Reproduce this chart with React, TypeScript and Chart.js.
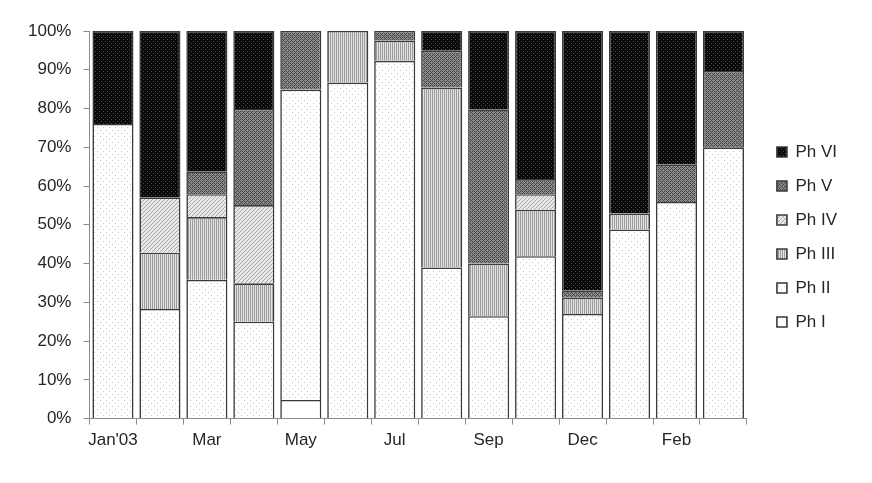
import React, { useEffect, useRef } from 'react';
import { Chart, registerables } from 'chart.js';

Chart.register(...registerables);

const categories = ["Jan'03", 'Feb', 'Mar', 'Apr', 'May', 'Jun', 'Jul', 'Aug', 'Sep', 'Oct', 'Dec', 'Jan', 'Feb', 'Mar'];
const yTicks = [0, 10, 20, 30, 40, 50, 60, 70, 80, 90, 100];

const phI = [0, 0, 0, 0, 4.8, 0, 0, 0, 0, 0, 0, 0, 0, 0];
const phII = [76, 28.3, 35.8, 25, 80.1, 86.7, 92.3, 39, 26.4, 41.9, 27, 48.8, 55.9, 70];
const phIII = [0, 14.5, 16.2, 9.9, 0, 13.3, 5.2, 46.4, 13.6, 12, 4.2, 4.1, 0, 0];
const phIV = [0, 14.3, 5.9, 20.2, 0, 0, 0, 0, 0, 4, 0, 0, 0, 0];
const phV = [0, 0, 5.9, 24.8, 15.1, 0, 2.5, 9.5, 39.8, 3.9, 1.9, 0, 9.7, 19.7];
const phVI = [24, 42.9, 36.2, 20.1, 0, 0, 0, 5.1, 20.2, 38.2, 66.9, 47.1, 34.4, 10.3];

const seriesNames = ['Ph I', 'Ph II', 'Ph III', 'Ph IV', 'Ph V', 'Ph VI'];

function makePattern(size: number, bg: string, draw: (c: CanvasRenderingContext2D) => void): CanvasPattern | string {
  const cv = document.createElement('canvas');
  cv.width = size;
  cv.height = size;
  const c = cv.getContext('2d');
  if (!c) return bg;
  c.fillStyle = bg;
  c.fillRect(0, 0, size, size);
  draw(c);
  const ctx = document.createElement('canvas').getContext('2d');
  const p = ctx ? ctx.createPattern(cv, 'repeat') : null;
  return p || bg;
}

function px(c: CanvasRenderingContext2D, color: string, pts: number[][]) {
  c.fillStyle = color;
  pts.forEach(([x, y]) => c.fillRect(x, y, 1, 1));
}

const FONT = "'Liberation Sans', Arial, sans-serif";

const legendShift = {
  id: 'legendShift',
  afterLayout(chart: any) {
    const l = chart.legend;
    if (l) {
      l.top -= 7;
      l.bottom -= 7;
    }
  },
};

export default function App() {
  const ref = useRef<HTMLCanvasElement | null>(null);

  useEffect(() => {
    if (!ref.current) return;
    const fills = [
      '#ffffff',
      makePattern(6, '#ffffff', (c) => px(c, '#c4c4c4', [[1, 1], [4, 4]])),
      makePattern(2, '#e2e2e2', (c) => { c.fillStyle = '#9c9c9c'; c.fillRect(0, 0, 1, 2); }),
      makePattern(4, '#e8e8e8', (c) => px(c, '#a6a6a6', [[0, 3], [1, 2], [2, 1], [3, 0]])),
      makePattern(4, '#8a8a8a', (c) => px(c, '#474747', [[0, 3], [1, 2], [2, 1], [3, 0], [0, 1], [2, 3]])),
      makePattern(4, '#0a0a0a', (c) => px(c, '#4a4a4a', [[1, 1], [3, 3]])),
    ];
    const series = [phI, phII, phIII, phIV, phV, phVI];
    const datasets = series.map((arr, i) => ({
      label: seriesNames[i],
      data: arr.map((v) => (v === 0 ? null : v)),
      backgroundColor: fills[i] as any,
      borderColor: '#3a3a3a',
      borderWidth: 1.6,
      barPercentage: 0.875,
      categoryPercentage: 1,
    }));

    const chart = new Chart(ref.current, {
      type: 'bar',
      data: { labels: categories, datasets },
      plugins: [legendShift],
      options: {
        responsive: false,
        animation: false,
        layout: { padding: { top: 31, bottom: 26, left: 16, right: 25 } },
        plugins: {
          legend: {
            position: 'right',
            reverse: true,
            labels: {
              boxWidth: 10,
              boxHeight: 10,
              padding: 17,
              color: '#262626',
              font: { family: FONT, size: 17 },
            },
          },
          tooltip: { enabled: false },
        },
        scales: {
          x: {
            stacked: true,
            grid: { drawOnChartArea: false, drawTicks: true, tickLength: 6, color: '#8c8c8c', offset: true },
            border: { color: '#8c8c8c', width: 1 },
            ticks: {
              autoSkip: false,
              maxRotation: 0,
              padding: 6,
              color: '#262626',
              font: { family: FONT, size: 17 },
              callback: (_v: any, i: number) => (i % 2 === 0 ? categories[i] : ''),
            },
          },
          y: {
            stacked: true,
            min: 0,
            max: 100,
            afterBuildTicks: (s: any) => { s.ticks = yTicks.map((v) => ({ value: v })); },
            grid: { drawOnChartArea: false, drawTicks: true, tickLength: 6, color: '#8c8c8c' },
            border: { color: '#8c8c8c', width: 1 },
            ticks: {
              padding: 12,
              color: '#262626',
              font: { family: FONT, size: 17 },
              callback: (v: any) => v + '%',
            },
          },
          gap: {
            type: 'linear',
            position: 'right',
            display: true,
            grid: { display: false },
            border: { display: false },
            ticks: { display: false },
            afterFit: (s: any) => { s.width = 13; },
          },
        },
      } as any,
    });
    return () => chart.destroy();
  }, []);

  return (
    <div style={{ position: 'fixed', left: 0, top: 0, width: 872, height: 483, background: '#fff' }}>
      <canvas ref={ref} width={872} height={483} style={{ width: 872, height: 483 }} />
    </div>
  );
}
